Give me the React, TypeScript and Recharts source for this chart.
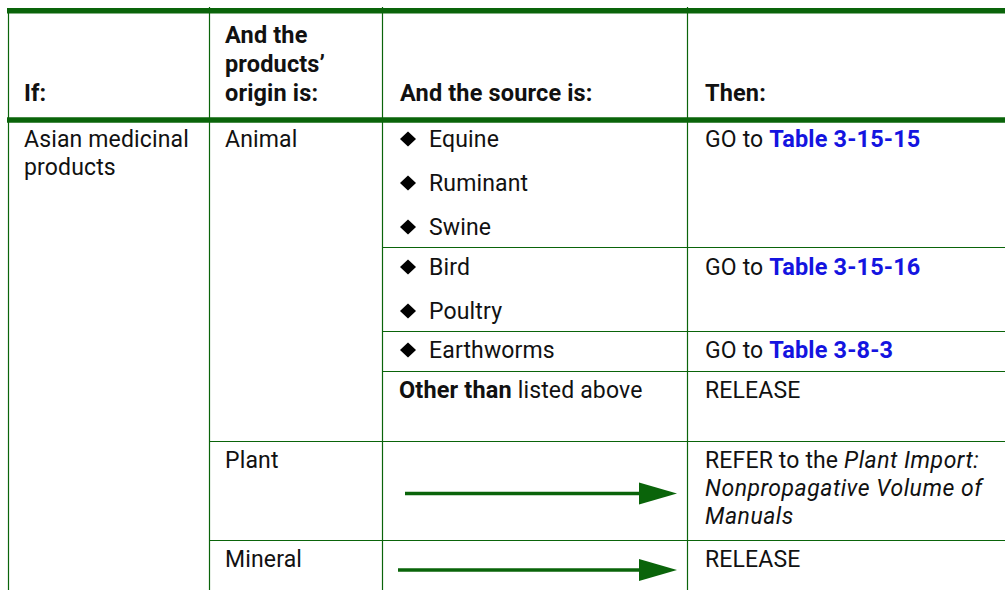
import React from "react";
import { ComposedChart, XAxis, YAxis, Scatter, ReferenceLine } from "recharts";

// table content
const headerIf = ["If:"];
const headerOrigin = ["And the", "products\u2019", "origin is:"];
const headerSource = ["And the source is:"];
const headerThen = ["Then:"];

const commodity = ["Asian medicinal", "products"];
const origins = ["Animal", "Plant", "Mineral"];
const animalSources = ["Equine", "Ruminant", "Swine", "Bird", "Poultry", "Earthworms"];
const otherSource = ["Other than", " listed above"];
const goTo = "GO to ";
const tableRefs = ["Table 3-15-15", "Table 3-15-16", "Table 3-8-3"];
const release = "RELEASE";
const referLines = ["REFER to the ", "Plant Import:", "Nonpropagative Volume of", "Manuals"];

// layout
const W = 1005;
const H = 590;
const GREEN = "#0a640a";
const LINK = "#1414e0";
const colX = [8, 209, 382, 687];
const textX = [24, 225, 400, 705];
const bulletGap = 29;
const headBase = 101;
const headLine = 29;
const sourceBase = [147, 191, 235, 275, 319, 358];
const otherBase = 398;
const plantBase = 468;
const mineralBase = 567;
const referLine = 28;
const arrows = [
  { x0: 405, y: 493.5 },
  { x0: 398, y: 570 },
];
const arrowTip = 677;

type Part = { t: string; b?: boolean; i?: boolean; c?: string };
type Cell = { x: number; y: number; parts: Part[]; bullet?: boolean };

const cells: Cell[] = [];
cells.push({ x: textX[0], y: headBase, parts: [{ t: headerIf[0], b: true }] });
headerOrigin.forEach((t, i) =>
  cells.push({ x: textX[1], y: headBase - (headerOrigin.length - 1 - i) * headLine, parts: [{ t, b: true }] })
);
cells.push({ x: textX[2], y: headBase, parts: [{ t: headerSource[0], b: true }] });
cells.push({ x: textX[3], y: headBase, parts: [{ t: headerThen[0], b: true }] });

commodity.forEach((t, i) => cells.push({ x: textX[0], y: sourceBase[0] + i * 27.5, parts: [{ t }] }));
cells.push({ x: textX[1], y: sourceBase[0], parts: [{ t: origins[0] }] });
cells.push({ x: textX[1], y: plantBase, parts: [{ t: origins[1] }] });
cells.push({ x: textX[1], y: mineralBase, parts: [{ t: origins[2] }] });

animalSources.forEach((t, i) => cells.push({ x: textX[2], y: sourceBase[i], parts: [{ t }], bullet: true }));
cells.push({ x: textX[2] - 1, y: otherBase, parts: [{ t: otherSource[0], b: true }, { t: otherSource[1] }] });

[0, 3, 5].forEach((row, i) =>
  cells.push({
    x: textX[3],
    y: sourceBase[row],
    parts: [{ t: goTo }, { t: tableRefs[i], b: true, c: LINK }],
  })
);
cells.push({ x: textX[3], y: otherBase, parts: [{ t: release }] });
cells.push({ x: textX[3], y: plantBase, parts: [{ t: referLines[0] }, { t: referLines[1], i: true }] });
cells.push({ x: textX[3], y: plantBase + referLine, parts: [{ t: referLines[2], i: true }] });
cells.push({ x: textX[3], y: plantBase + referLine * 2, parts: [{ t: referLines[3], i: true }] });
cells.push({ x: textX[3], y: mineralBase, parts: [{ t: release }] });

const tips = arrows.map((a) => ({ x: arrowTip, y: a.y }));

const CellText = (props: any) => {
  const { cx, cy, payload } = props;
  const tx = payload.bullet ? cx + bulletGap : cx;
  return (
    <g>
      {payload.bullet && (
        <polygon
          points={`${cx},${cy - 8} ${cx + 8},${cy - 15.5} ${cx + 16},${cy - 8} ${cx + 8},${cy - 0.5}`}
          fill="#000"
        />
      )}
      <text x={tx} y={cy} fontFamily="Roboto, 'DejaVu Sans', sans-serif" fontSize={23} style={{ whiteSpace: "pre" }}>
        {payload.parts.map((p: Part, i: number) => (
          <tspan
            key={i}
            fontWeight={p.b ? 700 : 400}
            fontStyle={p.i ? "italic" : "normal"}
            fontSize={p.b ? 23.5 : 23}
            letterSpacing={p.i ? 0.5 : 0.15}
            fill={p.c || "#111"}
          >
            {p.t}
          </tspan>
        ))}
      </text>
    </g>
  );
};

const ArrowHead = (props: any) => {
  const { cx, cy } = props;
  return <polygon points={`${cx},${cy} ${cx - 38},${cy - 11} ${cx - 38},${cy + 11}`} fill={GREEN} />;
};

const hLine = (x1: number, x2: number, y: number, w: number, key: string) => (
  <ReferenceLine
    key={key}
    segment={[{ x: x1, y }, { x: x2, y }]}
    stroke={GREEN}
    strokeWidth={w}
    ifOverflow="visible"
  />
);

const vLine = (x: number, y1: number, y2: number, key: string) => (
  <ReferenceLine
    key={key}
    segment={[{ x, y: y1 }, { x, y: y2 }]}
    stroke={GREEN}
    strokeWidth={1.2}
    ifOverflow="visible"
  />
);

export default function App() {
  return (
    <div style={{ position: "absolute", left: 0, top: 0, background: "#fff" }}>
      <ComposedChart width={W} height={H} margin={{ top: 0, right: 0, bottom: 0, left: 0 }} data={cells}>
        <XAxis type="number" dataKey="x" domain={[0, W]} hide allowDataOverflow />
        <YAxis type="number" dataKey="y" domain={[0, H]} reversed hide allowDataOverflow />
        {vLine(colX[0] + 0.5, 10, H, "v0")}
        {vLine(colX[1] + 0.5, 7, H, "v1")}
        {vLine(colX[2] + 0.5, 7, H, "v2")}
        {vLine(colX[3] + 0.5, 7, H, "v3")}
        {hLine(7, W, 10.8, 5.5, "top")}
        {hLine(7, W, 120, 5.5, "head")}
        {hLine(colX[2], W, 247.5, 1.2, "r1")}
        {hLine(colX[2], W, 331.5, 1.2, "r2")}
        {hLine(colX[2], W, 371.5, 1.2, "r3")}
        {hLine(colX[1], W, 441.5, 1.2, "r4")}
        {hLine(colX[1], W, 540.5, 1.2, "r5")}
        {arrows.map((a, i) => (
          <ReferenceLine
            key={`a${i}`}
            segment={[{ x: a.x0, y: a.y }, { x: arrowTip - 36, y: a.y }]}
            stroke={GREEN}
            strokeWidth={3.5}
            ifOverflow="visible"
          />
        ))}
        <Scatter data={cells} dataKey="y" shape={CellText} isAnimationActive={false} />
        <Scatter data={tips} dataKey="y" shape={ArrowHead} isAnimationActive={false} />
      </ComposedChart>
    </div>
  );
}
